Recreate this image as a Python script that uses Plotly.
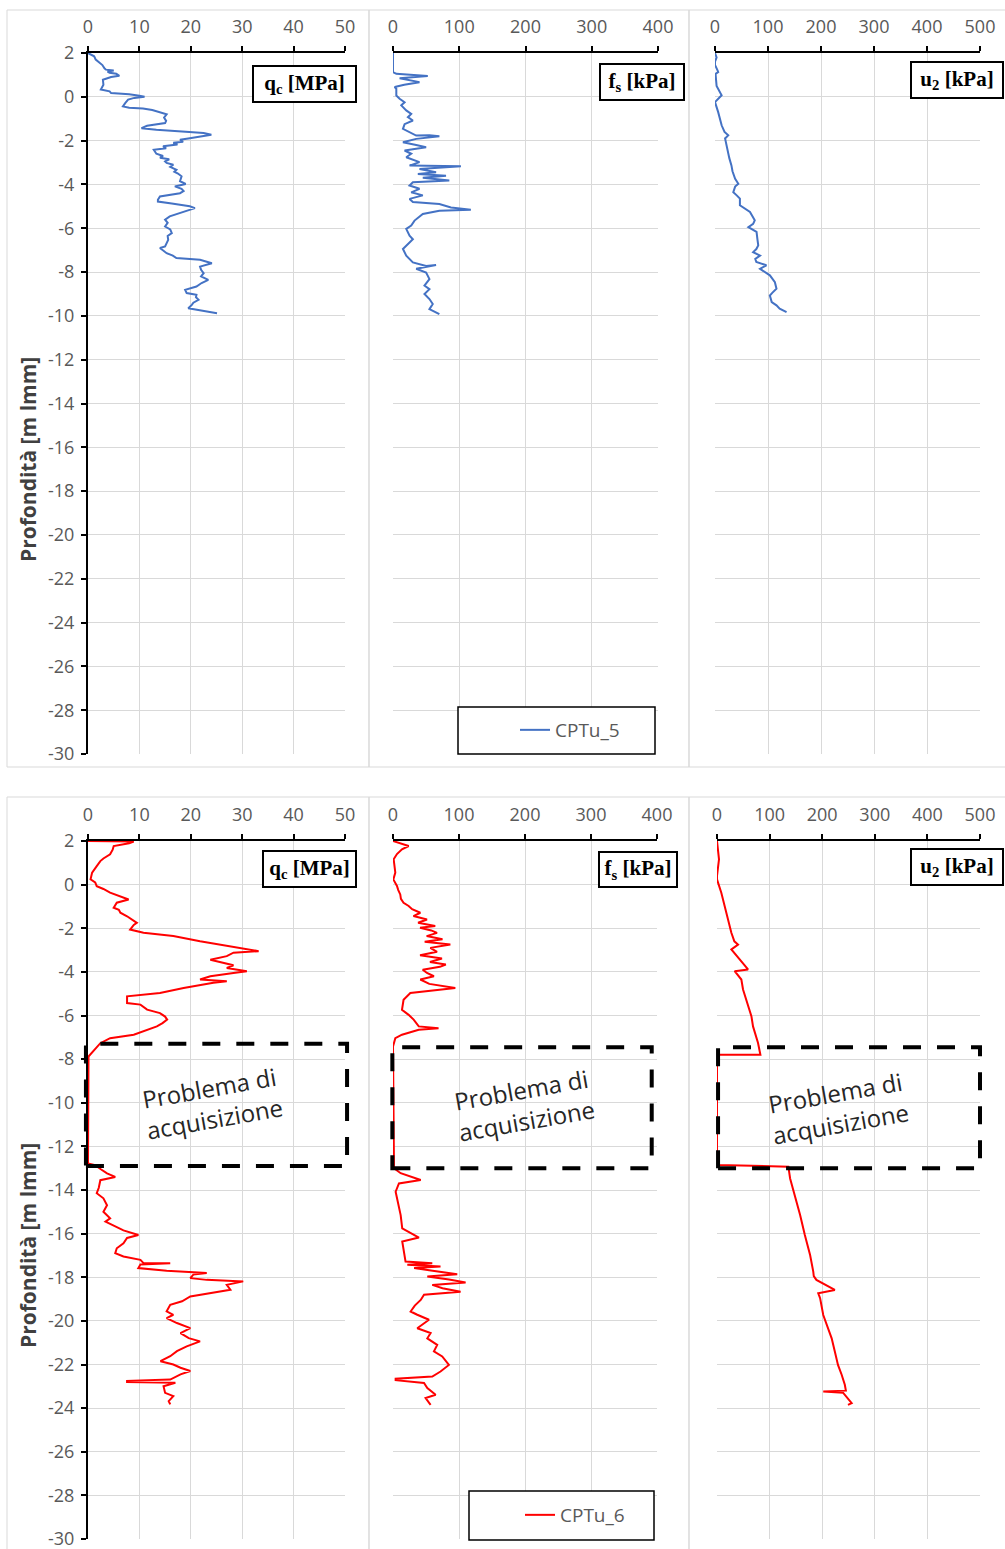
import plotly.graph_objects as go

W, H = 1005, 1549

# ---------------- data (CPTu_5) ----------------
cptu5_qc_depth = [2.0, 1.85, 1.7, 1.45, 1.3, 1.24, 1.2, 1.15, 1.1, 1.05, 0.96, 0.9, 0.78, 0.55, 0.33, 0.25, 0.17,
                  0.12, 0.05, 0.0, -0.05, -0.13, -0.3, -0.44, -0.5, -0.53, -0.6, -0.7, -0.8, -0.95, -1.1, -1.2,
                  -1.32, -1.43, -1.5, -1.6, -1.65, -1.73, -1.8, -1.9, -1.96, -2.05, -2.1, -2.18, -2.26, -2.35,
                  -2.42, -2.49, -2.6, -2.7, -2.78, -2.85, -2.95, -3.02, -3.1, -3.2, -3.33, -3.42, -3.5, -3.63,
                  -3.75, -3.85, -3.98, -4.09, -4.2, -4.3, -4.4, -4.45, -4.55, -4.7, -4.78, -4.87, -5.0, -5.08,
                  -5.2, -5.35, -5.46, -5.61, -5.75, -5.92, -6.05, -6.22, -6.35, -6.53, -6.7, -6.83, -6.9, -7.0,
                  -7.14, -7.25, -7.36, -7.44, -7.6, -7.75, -7.9, -8.05, -8.2, -8.36, -8.5, -8.66, -8.81, -8.96,
                  -9.04, -9.15, -9.27, -9.4, -9.5, -9.65, -9.72, -9.78, -9.88]
cptu5_qc = [0, 1.2, 1.5, 2.8, 3.2, 3.5, 5.0, 3.8, 4.2, 5.5, 6.1, 4.5, 2.9, 3.0, 2.5, 4.2, 4.5,
            8.0, 10.0, 11.0, 9.0, 7.8, 7.2, 6.8, 8.0, 10.7, 12.5, 14.0, 15.3, 14.8, 15.2, 15.0,
            11.5, 10.4, 13.3, 19.0, 22.5, 24.0, 21.8, 19.5, 17.9, 18.5, 16.6, 17.4, 14.6, 15.2,
            12.8, 13.0, 13.3, 14.6, 14.0, 15.8, 15.0, 15.3, 16.6, 16.0, 17.2, 16.8, 17.5, 18.2,
            18.0, 17.9, 19.0, 16.9, 18.2, 18.6, 17.9, 16.3, 14.0, 13.6, 13.6, 16.3, 19.8, 20.8,
            19.2, 17.0, 15.9, 15.0, 15.5, 15.0, 16.0, 16.3, 15.5, 15.6, 15.3, 15.0, 14.0, 14.5,
            15.3, 16.5, 17.2, 21.8, 24.1, 21.8, 22.0, 22.5, 22.0, 23.4, 22.1, 21.1, 18.9, 19.2,
            21.1, 21.0, 21.5, 20.5, 20.2, 19.5, 21.1, 23.1, 25.1]

cptu5_fs_depth = [2.0, 1.13, 1.05, 0.95, 0.85, 0.67, 0.55, 0.45, 0.37, 0.06, -0.09, -0.25, -0.39, -0.62, -0.78,
                  -0.93, -1.08, -1.25, -1.46, -1.62, -1.77, -1.75, -1.8, -1.92, -2.07, -2.2, -2.3, -2.45, -2.6,
                  -2.76, -2.98, -3.14, -3.17, -3.3, -3.44, -3.52, -3.6, -3.7, -3.82, -3.9, -4.05, -4.2, -4.36,
                  -4.5, -4.66, -4.8, -4.89, -5.05, -5.15, -5.2, -5.35, -5.65, -5.88, -6.03, -6.34, -6.5, -6.8,
                  -6.95, -7.25, -7.56, -7.72, -7.68, -7.85, -8.02, -8.32, -8.62, -8.78, -9.0, -9.23, -9.46,
                  -9.69, -9.92]
cptu5_fs = [0, 0, 5, 52.5, 10, 40, 17, 2.5, 5, 5, 10, 17.5, 12.5, 20, 27.5,
            22.5, 30, 17.5, 15, 25, 35, 55, 70, 35, 15, 35, 50, 17.5, 27.5,
            20, 40, 25, 102.5, 40, 65, 37.5, 80, 45, 85, 30, 25, 40, 27.5,
            45, 25, 30, 70, 87.5, 117.5, 70, 45, 32.5, 27.5, 20, 25, 30, 20,
            15, 20, 30, 50, 65, 35, 50, 55, 47.5, 55, 47.5, 55, 60,
            55, 70]

cptu5_u2_depth = [2.0, 1.8, 1.6, 1.45, 1.2, 1.13, 1.05, 0.5, 0.07, -0.1, -0.24, -0.7, -1.0, -1.3, -1.6, -1.76,
                  -1.9, -2.3, -2.52, -2.8, -3.13, -3.4, -3.74, -3.97, -4.1, -4.35, -4.5, -4.65, -4.95, -5.26,
                  -5.64, -5.8, -5.95, -6.17, -6.5, -6.78, -6.95, -7.09, -7.25, -7.4, -7.54, -7.69, -7.85, -8.0,
                  -8.15, -8.46, -8.76, -8.95, -9.07, -9.37, -9.52, -9.67, -9.83]
cptu5_u2 = [0, 3, 0, 0, 5, 6, 1, 3, 12.5, 5, 0, 6, 9, 12.5, 18, 25,
            19, 22, 25, 27, 31, 33, 38, 44, 38, 34.5, 41, 47, 47, 66,
            75, 72, 63, 78.4, 80, 81.6, 78, 72, 85, 76, 78, 97, 85, 94,
            103.5, 113, 116, 108, 103.5, 107, 116, 122, 135]

# ---------------- data (CPTu_6) ----------------
cptu6_qc_depth = [2.0, 2.0, 1.98, 1.9, 1.77, 1.6, 1.39, 1.2, 1.08, 0.85, 0.55, 0.24, 0.1, -0.07, -0.2, -0.37,
                  -0.53, -0.68, -0.83, -1.06, -1.15, -1.29, -1.45, -1.6, -1.75, -1.85, -2.06, -2.21, -2.36, -2.6,
                  -2.8, -2.98, -3.05, -3.12, -3.28, -3.44, -3.6, -3.7, -3.82, -3.9, -3.97, -4.05, -4.2, -4.35,
                  -4.43, -4.5, -4.74, -4.97, -5.12, -5.43, -5.5, -5.73, -5.89, -6.05, -6.19, -6.35, -6.5, -6.88,
                  -7.04, -7.27, -7.5, -7.72, -7.88, -12.78, -12.86, -13.05, -13.24, -13.4, -13.55, -13.9, -14.15,
                  -14.38, -14.7, -15.0, -15.3, -15.45, -15.68, -15.85, -16.06, -16.2, -16.44, -16.67, -16.9,
                  -17.05, -17.2, -17.35, -17.36, -17.42, -17.58, -17.7, -17.8, -17.88, -18.04, -18.12, -18.19,
                  -18.35, -18.57, -18.72, -18.88, -19.1, -19.26, -19.56, -19.72, -19.87, -20.1, -20.33, -20.56,
                  -20.79, -20.94, -21.17, -21.39, -21.62, -21.85, -22.0, -22.15, -22.3, -22.45, -22.69, -22.75,
                  -22.8, -22.84, -23.0, -23.3, -23.45, -23.68, -23.83]
cptu6_qc = [0, 4, 8.9, 8.0, 5.0, 4.8, 4.3, 3.0, 2.4, 1.7, 0.8, 0.5, 1.4, 1.7, 3.0, 4.3,
            6.3, 7.9, 5.6, 5.0, 6.0, 6.3, 7.6, 8.5, 9.5, 8.9, 8.2, 10.8, 16.6, 21.8,
            27.0, 30.9, 33.2, 28.3, 27.0, 23.8, 26.4, 28.3, 27.0, 29.6, 30.9, 28.3, 23.8, 21.8,
            27.0, 24.4, 18.6, 14.0, 7.6, 7.6, 10.2, 11.5, 14.0, 15.0, 15.4, 14.5, 13.4, 8.9,
            4.3, 2.4, 1.5, 0.8, 0.1, 0, 1.4, 2.5, 3.7, 5.3, 2.4, 2.1, 1.7,
            3.0, 3.7, 3.0, 4.3, 3.4, 5.6, 6.9, 9.8, 7.6, 6.9, 5.6, 5.3,
            6.9, 10.2, 10.8, 16.0, 10.2, 9.8, 15.3, 23.1, 20.5, 19.9, 23.1, 30.2,
            27.0, 27.7, 23.8, 19.9, 18.3, 16.0, 15.3, 16.6, 15.3, 17.3, 19.9, 18.0,
            19.6, 21.8, 19.2, 17.3, 16.0, 14.1, 16.6, 18.0, 19.9, 18.0, 16.0, 7.6,
            7.6, 17.0, 14.7, 15.0, 16.6, 15.7, 16.0]

cptu6_fs_depth = [2.0, 1.77, 1.62, 1.4, 1.16, 0.85, 0.55, 0.24, -0.06, -0.25, -0.45, -0.65, -0.83, -0.98, -1.13,
                  -1.29, -1.44, -1.6, -1.75, -1.9, -1.98, -2.1, -2.21, -2.36, -2.5, -2.62, -2.75, -2.9, -3.08,
                  -3.24, -3.39, -3.55, -3.66, -3.77, -3.9, -4.05, -4.2, -4.35, -4.55, -4.74, -4.82, -4.89, -4.97,
                  -5.28, -5.74, -5.97, -6.19, -6.5, -6.58, -6.65, -6.88, -7.04, -7.42, -13.0, -13.23, -13.54,
                  -13.7, -14.08, -14.7, -15.15, -15.76, -16.18, -16.36, -16.98, -17.28, -17.36, -17.43, -17.51,
                  -17.58, -17.7, -17.86, -17.97, -18.1, -18.24, -18.35, -18.5, -18.66, -18.8, -19.04, -19.3,
                  -19.57, -19.72, -19.95, -20.34, -20.56, -20.8, -21.1, -21.4, -21.63, -22.02, -22.32, -22.55,
                  -22.65, -22.72, -22.85, -23.08, -23.39, -23.54, -23.85]
cptu6_fs = [0, 23.7, 13.6, 6.0, 1.0, 2.0, 3.5, 0.5, 6.0, 8.0, 11.0, 12.0, 16.0, 23.7, 29.0,
            41.4, 31.0, 51.5, 38.0, 64.0, 41.0, 58.0, 66.7, 51.0, 75.0, 48.0, 86.9, 56.6, 66.7,
            41.0, 74.2, 56.0, 80.0, 71.0, 45.0, 51.5, 62.0, 41.4, 55.0, 94.4, 71.7, 44.0, 26.3,
            16.0, 13.6, 23.7, 31.3, 39.0, 69.0, 39.0, 13.6, 3.5, 0, 1.5, 11.6, 42.0,
            9.0, 4.0, 9.0, 11.6, 14.0, 39.3, 14.0, 16.6, 19.0, 59.5, 21.7, 72.0,
            32.0, 60.0, 97.3, 52.0, 85.0, 110.0, 59.5, 75.0, 102.4, 47.0, 42.0, 33.0,
            26.7, 36.8, 54.5, 36.8, 57.0, 52.0, 67.0, 62.0, 74.6, 84.7, 72.0, 59.5,
            4.0, 4.0, 47.0, 52.0, 64.6, 49.4, 57.0]

cptu6_u2_depth = [2.0, 1.5, 1.16, 0.4, 0.24, -0.37, -1.29, -2.21, -2.6, -2.75, -2.97, -3.4, -3.89, -3.97, -4.35,
                  -4.81, -5.58, -6.03, -6.5, -7.26, -7.8, -7.8, -12.85, -12.93, -13.47, -14.23, -15.15, -16.06,
                  -16.98, -17.74, -17.95, -18.12, -18.58, -18.73, -18.96, -19.73, -20.34, -20.8, -21.4, -22.02,
                  -22.47, -22.93, -23.2, -23.24, -23.3, -23.54, -23.77, -23.85]
cptu6_u2 = [0, 2.5, 3.8, 0, 0, 8.2, 17.8, 27.3, 33.0, 40.0, 27.3, 42.0, 59.0, 33.6, 46.3,
            49.5, 59.0, 65.4, 68.5, 78.0, 82.5, 0, 0, 135.7, 139.0, 148.0, 158.0, 167.0,
            177.0, 183.0, 184.0, 189.0, 224.0, 192.5, 196.0, 202.0, 211.5, 218.0, 224.0, 230.0,
            237.0, 243.0, 245.0, 202.0, 240.0, 249.0, 256.0, 249.0]

# axis scales / ticks
depth_range = [-30, 2]
depth_ticks = [2, 0, -2, -4, -6, -8, -10, -12, -14, -16, -18, -20, -22, -24, -26, -28, -30]
qc_range, qc_dtick = [0, 50], 10
fs_range, fs_dtick = [0, 400], 100
u2_range, u2_dtick = [0, 500], 100

# gap ("Problema di acquisizione") in CPTu_6, in data units per subplot
gap_qc = dict(x=[-0.4, 50.4], y=[-7.3, -12.9])
gap_fs = dict(x=[-1.0, 392.0], y=[-7.45, -13.0])
gap_u2 = dict(x=[2.0, 500.0], y=[-7.45, -13.0])

# ---------------- layout geometry (pixels) ----------------
def pxx(x):
    return x / W

def pxy(y):
    return 1 - y / H

panels = [
    dict(ytop=53, ybot=754, xs=[(88, 345), (393, 658), (715, 980)]),
    dict(ytop=841, ybot=1539, xs=[(88, 345), (393, 657), (717, 980)]),
]

fig = go.Figure()

tick_font = dict(family="Open Sans", size=18, color="#595959")
grid_col = "#d9d9d9"

series = [
    ("CPTu_5", "#4472C4", "legend",
     [(cptu5_qc, cptu5_qc_depth), (cptu5_fs, cptu5_fs_depth), (cptu5_u2, cptu5_u2_depth)]),
    ("CPTu_6", "#FF0000", "legend2",
     [(cptu6_qc, cptu6_qc_depth), (cptu6_fs, cptu6_fs_depth), (cptu6_u2, cptu6_u2_depth)]),
]
xranges = [(qc_range, qc_dtick), (fs_range, fs_dtick), (u2_range, u2_dtick)]

layout_axes = {}
axis_map = {}
n = 0
for p, panel in enumerate(panels):
    name, color, leg, data = series[p]
    for j in range(3):
        n += 1
        xa = "x" if n == 1 else f"x{n}"
        ya = "y" if n == 1 else f"y{n}"
        x0, x1 = panel["xs"][j]
        rng, dt = xranges[j]
        axis_map[(p, j)] = dict(xd=(x0, x1), yd=(panel["ytop"], panel["ybot"]), xr=rng)
        layout_axes["xaxis" if n == 1 else f"xaxis{n}"] = dict(
            domain=[pxx(x0), pxx(x1)], range=rng, dtick=dt, tick0=0, side="top",
            anchor=ya, showline=True, linecolor="black", linewidth=2,
            ticks="outside", ticklen=5, tickwidth=2, tickcolor="black",
            showgrid=True, gridcolor=grid_col, gridwidth=1, zeroline=False,
            tickfont=tick_font, ticklabelstandoff=6, fixedrange=True, automargin=False,
            ticklabeloverflow="allow",
        )
        first = (j == 0)
        layout_axes["yaxis" if n == 1 else f"yaxis{n}"] = dict(
            domain=[pxy(panel["ybot"]), pxy(panel["ytop"])], range=depth_range,
            tickvals=depth_ticks, ticktext=[str(v) for v in depth_ticks],
            anchor=xa, showline=first, linecolor="black", linewidth=2,
            ticks="outside" if first else "", ticklen=5, tickwidth=2, tickcolor="black",
            showticklabels=first, showgrid=True, gridcolor=grid_col, gridwidth=1,
            zeroline=False, tickfont=tick_font, ticklabelstandoff=3, fixedrange=True,
            automargin=False, ticklabeloverflow="allow",
        )
        xv, yv = data[j]
        fig.add_trace(go.Scatter(
            x=xv, y=yv, xaxis=xa, yaxis=ya, mode="lines", name=name,
            line=dict(color=color, width=2), showlegend=(j == 1), legend=leg,
        ))

def to_paper(p, j, xv, yv):
    m = axis_map[(p, j)]
    xd0, xd1 = m["xd"]
    r0, r1 = m["xr"]
    px = xd0 + (xv - r0) / (r1 - r0) * (xd1 - xd0)
    yt, yb = m["yd"]
    py = yt + (depth_range[1] - yv) / (depth_range[1] - depth_range[0]) * (yb - yt)
    return pxx(px), pxy(py)

shapes = []
# chart-area borders (light gray)
for (yt, yb) in [(10, 767), (797, 1560)]:
    for (xl, xr) in [(7, 369), (369, 689), (689, 1010)]:
        shapes.append(dict(type="rect", xref="paper", yref="paper",
                           x0=pxx(xl), x1=pxx(xr), y0=pxy(yb), y1=pxy(yt),
                           line=dict(color=grid_col, width=1), layer="below"))
# legend boxes
shapes.append(dict(type="rect", xref="paper", yref="paper", x0=pxx(458), x1=pxx(655),
                   y0=pxy(754), y1=pxy(707), line=dict(color="black", width=1.5), fillcolor="white"))
shapes.append(dict(type="rect", xref="paper", yref="paper", x0=pxx(469), x1=pxx(654),
                   y0=pxy(1540), y1=pxy(1491), line=dict(color="black", width=1.5), fillcolor="white"))
# dashed "acquisition problem" boxes
for j, g in enumerate([gap_qc, gap_fs, gap_u2]):
    xa, ya = to_paper(1, j, g["x"][0], g["y"][0])
    xb, yb = to_paper(1, j, g["x"][1], g["y"][1])
    shapes.append(dict(type="rect", xref="paper", yref="paper", x0=xa, x1=xb, y0=yb, y1=ya,
                       line=dict(color="black", width=4, dash="18px,16px")))

annotations = []
label_font = dict(family="Liberation Serif", size=21, color="black")
labels = [
    ("<b>q<sub>c</sub> [MPa]</b>", 252, 357, 65, 103),
    ("<b>f<sub>s</sub> [kPa]</b>", 599, 685, 63, 101),
    ("<b>u<sub>2</sub> [kPa]</b>", 910, 1004, 61, 99),
    ("<b>q<sub>c</sub> [MPa]</b>", 262, 357, 850, 888),
    ("<b>f<sub>s</sub> [kPa]</b>", 598, 678, 851, 888),
    ("<b>u<sub>2</sub> [kPa]</b>", 910, 1004, 848, 886),
]
for t, x0, x1, y0, y1 in labels:
    annotations.append(dict(text=t, xref="paper", yref="paper", x=pxx((x0 + x1) / 2), y=pxy((y0 + y1) / 2),
                            xanchor="center", yanchor="middle", showarrow=False, font=label_font,
                            bordercolor="black", borderwidth=2, borderpad=0, bgcolor="white",
                            width=x1 - x0 - 4, height=y1 - y0 - 4))
for yc in [460, 1246]:
    annotations.append(dict(text="<b>Profondità [m lmm]</b>", xref="paper", yref="paper",
                            x=pxx(28), y=pxy(yc), xanchor="center", yanchor="middle", showarrow=False,
                            textangle=-90, font=dict(family="Open Sans", size=21, color="#404040")))
for xc, yc in [(212, 1103), (524, 1105), (838, 1108)]:
    annotations.append(dict(text="Problema di<br>acquisizione", xref="paper", yref="paper",
                            x=pxx(xc), y=pxy(yc), xanchor="center", yanchor="middle", showarrow=False,
                            textangle=-10, font=dict(family="Open Sans", size=24, color="#262626")))

legend_common = dict(xanchor="left", yanchor="middle", bgcolor="rgba(0,0,0,0)", borderwidth=0,
                     font=dict(family="Open Sans", size=19, color="#595959"))

fig.update_layout(
    width=W, height=H, margin=dict(l=0, r=0, t=0, b=0, pad=0, autoexpand=False),
    paper_bgcolor="white", plot_bgcolor="white",
    showlegend=True,
    legend=dict(x=pxx(515), y=pxy(730), **legend_common),
    legend2=dict(x=pxx(520), y=pxy(1515), **legend_common),
    shapes=shapes, annotations=annotations,
    **layout_axes,
)

fig.write_html("out.html")
